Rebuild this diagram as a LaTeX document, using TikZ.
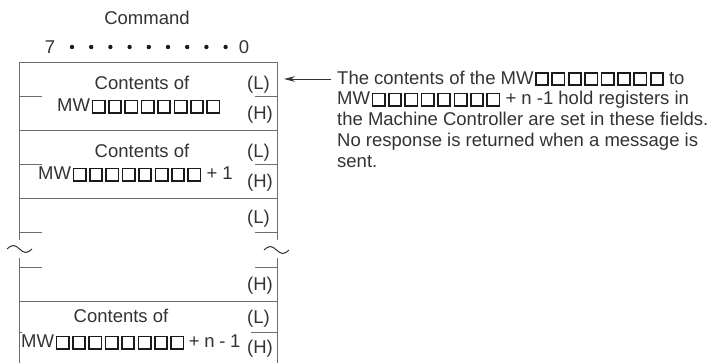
\documentclass[tikz,border=0pt]{standalone}
\usepackage{fontspec}
\setmainfont{Liberation Sans}
\usetikzlibrary{arrows.meta}
\definecolor{txt}{HTML}{333333}
\definecolor{ln}{HTML}{6E6E6E}
\definecolor{sqc}{HTML}{1A1A1A}
\newcommand\sqb{{\color{sqc}\setlength\fboxsep{0pt}\setlength\fboxrule{1.7pt}\fbox{\rule{0pt}{10.6pt}\hspace{10.6pt}}}}
\newcommand\sqrow{\sqb\kern2.4pt\sqb\kern2.4pt\sqb\kern2.4pt\sqb\kern2.4pt\sqb\kern2.4pt\sqb\kern2.4pt\sqb\kern2.4pt\sqb}
\newcommand\mwreg{MW\kern1.5pt\sqrow}
\begin{document}
\begin{tikzpicture}[x=1pt,y=-1pt,
  font=\fontsize{18.5}{20.8}\selectfont,
  every node/.style={text=txt, inner sep=0pt},
  boxline/.style={draw=ln, line width=0.9pt},
  lab/.style={anchor=base west},
  ctr/.style={anchor=base},
  dotc/.style={circle, fill=black!90, minimum size=4.4pt, inner sep=0pt},
  brk/.style={draw=txt, line width=1pt},
  arr/.style={draw=txt, line width=0.9pt, -{Stealth[length=11pt,width=5.5pt]}}]
\useasboundingbox (0,0) rectangle (723,363);
% header
\node[ctr] (cmd) at (147,25) {Command};
\node[ctr] (b7) at (50,53.5) {7};
\node[ctr] (b0) at (244,53.5) {0};
\foreach \i/\x in {1/72,2/91.2,3/110.4,4/129.6,5/148.8,6/168,7/187.2,8/206.4,9/225.6}
  \node[dotc] (d\i) at (\x,47) {};
% box outline
\draw[boxline] (19,240) -- (19,62) -- (277,62) -- (277,240);
\draw[boxline] (19,258) -- (19,363);
\draw[boxline] (277,258) -- (277,363);
\foreach \y in {130,198,301} \draw[boxline] (19,\y) -- (277,\y);
% ticks
\foreach \y in {96,164,232,267} {
  \draw[boxline] (19,\y) -- (42,\y);
  \draw[boxline] (255,\y) -- (277,\y);
}
\draw[boxline] (19,332) -- (22,332);
\draw[boxline] (251,332) -- (277,332);
% break marks
\draw[brk] (7,249) sin (13.25,245.5) cos (19.5,249) sin (25.75,252.5) cos (32,249);
\draw[brk] (264,250) sin (270.25,246.5) cos (276.5,250) sin (282.75,253.5) cos (289,250);
% row 1
\node[ctr] (c1) at (142,90) {Contents of};
\node[lab] (m1) at (57,112) {\mwreg};
\node[lab] (l1) at (247,90) {(L)};
\node[lab] (h1) at (247,120) {(H)};
% row 2
\node[ctr] (c2) at (142,158) {Contents of};
\node[lab] (m2) at (38,180) {\mwreg\ + 1};
\node[lab] (l2) at (247,158) {(L)};
\node[lab] (h2) at (247,188) {(H)};
% row 3 / break
\node[lab] (l3) at (247,224) {(L)};
\node[lab] (h3) at (247,291) {(H)};
% last row
\node[ctr] (c4) at (121,323) {Contents of};
\node[lab] (m4) at (21,348) {\mwreg\kern4.6pt+\kern4.6pt n\kern4.6pt-\kern4.6pt 1};
\node[lab] (l4) at (247,324) {(L)};
\node[lab] (h4) at (247,354) {(H)};
% description
\node[anchor=north west, align=left] (t) at (337,70.5) {The contents of the \mwreg\ to\\
\mwreg\ + n -1 hold registers in\\
the Machine Controller are set in these fields.\\
No response is returned when a message is\\
sent.};
\coordinate (at) at (331,79);
\coordinate (ah) at (284,79);
\draw[arr] (at) -- (ah);
\end{tikzpicture}
\end{document}
